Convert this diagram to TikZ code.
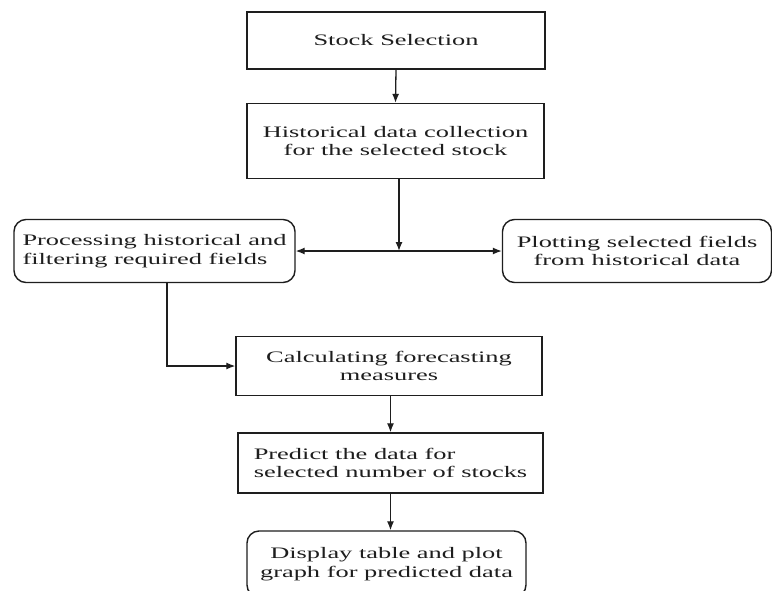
\documentclass[tikz,border=0pt]{standalone}
\usepackage{fontspec}
\setmainfont{Liberation Serif}[FakeStretch=1.65]
\usetikzlibrary{arrows.meta,calc}
\definecolor{ink}{HTML}{1E1E1E}
\tikzset{
  box/.style={draw=ink, line width=1.4pt, rectangle, inner sep=0pt,
    font=\fontsize{16}{18.5}\selectfont, text=ink},
  rbox/.style={box, rounded corners=12pt},
  arr/.style={draw=ink, line width=1.3pt, -{Latex[length=9pt,width=7pt]}},
  arrboth/.style={draw=ink, line width=1.3pt, {Latex[length=9pt,width=7pt]}-{Latex[length=9pt,width=7pt]}}
}
\begin{document}
\begin{tikzpicture}[x=1pt,y=-1pt]
\useasboundingbox (0,0) rectangle (772,590);
\clip (0,0) rectangle (772,590);
\fill[white] (0,0) rectangle (772,590);

\node[box, minimum width=298pt, minimum height=57pt, align=center] (sel) at (396,40.5) {Stock Selection};
\node[box, minimum width=297pt, minimum height=75pt, align=center] (hist) at (395.5,141) {Historical data collection\\for the selected stock};
\node[rbox, minimum width=281pt, minimum height=63pt, align=left] (proc) at (154.5,251) {Processing historical and\\filtering required fields};
\node[rbox, minimum width=269pt, minimum height=63pt, align=center] (plot) at (637,251) {Plotting selected fields\\from historical data};
\node[box, minimum width=306pt, minimum height=59pt, align=center] (calc) at (389,366) {Calculating forecasting\\measures};
\node[box, minimum width=305pt, minimum height=60pt, align=left] (pred) at (390.5,463) {Predict the data for\\selected number of stocks};
\node[rbox, minimum width=279pt, minimum height=66pt, align=center] (disp) at (386.5,564) {Display table and plot\\graph for predicted data};

\coordinate (j) at (399,251);

\draw[arr] (sel.south) -- (hist.north);
\draw[arr] (hist.south -| j) -- (j);
\draw[arrboth] (proc.east) -- (plot.west);
\draw[arr] ([xshift=12.5pt]proc.south) |- (calc.west);
\draw[arr] (calc.south -| pred.north) -- (pred.north);
\draw[arr] (pred.south) -- (pred.south |- disp.north);
\end{tikzpicture}
\end{document}
